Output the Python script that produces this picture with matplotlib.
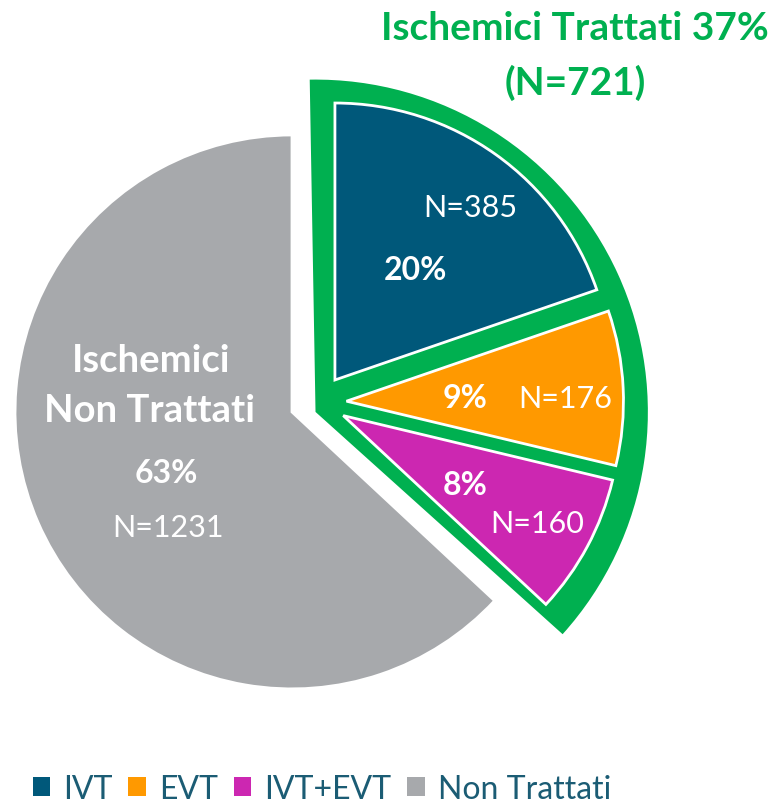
import matplotlib.pyplot as plt
from matplotlib.patches import Patch

# Dati
categorie = ["IVT", "EVT", "IVT+EVT", "Non Trattati"]
pazienti = [385, 176, 160, 1231]
percentuali = ["20%", "9%", "8%", "63%"]
colori = ["#00587A", "#FF9900", "#CC27B1", "#A7A9AC"]
trattati_n = 721
trattati_pct = "37%"

verde = "#00B050"
colore_legenda = "#1B5C74"

plt.rcParams['font.family'] = ['Lato', 'DejaVu Sans']

fig = plt.figure(figsize=(7.77, 8.04), dpi=100)
ax = fig.add_axes([0, 0, 1, 1])

# Cuneo verde dietro ai trattati
sfondo, _ = ax.pie([trattati_n, sum(pazienti) - trattati_n], startangle=91, counterclock=False,
                   radius=1.20, center=(0.085, 0.0), colors=[verde, 'none'])

# Torta principale, con i trattati esplosi
esplodi = [0.1, 0.1, 0.1, 0]
spicchi, _ = ax.pie(pazienti, colors=colori, startangle=90, counterclock=False, radius=1,
                    explode=esplodi, wedgeprops=dict(edgecolor='white', linewidth=2))

# Spostare il gruppo dei trattati verso destra
for w in spicchi[:3]:
    cx, cy = w.center
    w.set_center((cx + 0.097, cy + 0.034))

# Etichette
bianco = 'white'
ax.text(0.643, 0.708, f"N={pazienti[0]}", color=bianco, fontsize=22, ha='center', va='baseline')
ax.text(0.444, 0.480, percentuali[0], color=bianco, fontsize=23, fontweight='bold', ha='center', va='baseline')
ax.text(0.625, 0.018, percentuali[1], color=bianco, fontsize=23, fontweight='bold', ha='center', va='baseline')
ax.text(0.986, 0.018, f"N={pazienti[1]}", color=bianco, fontsize=22, ha='center', va='baseline')
ax.text(0.625, -0.296, percentuali[2], color=bianco, fontsize=23, fontweight='bold', ha='center', va='baseline')
ax.text(0.884, -0.433, f"N={pazienti[2]}", color=bianco, fontsize=22, ha='center', va='baseline')
ax.text(-0.509, 0.148, "Ischemici", color=bianco, fontsize=27.5, fontweight='bold', ha='center', va='baseline')
ax.text(-0.513, -0.032, "Non Trattati", color=bianco, fontsize=27.5, fontweight='bold', ha='center', va='baseline')
ax.text(-0.455, -0.253, percentuali[3], color=bianco, fontsize=23, fontweight='bold', ha='center', va='baseline')
ax.text(-0.448, -0.448, f"N={pazienti[3]}", color=bianco, fontsize=22, ha='center', va='baseline')

# Titolo verde
ax.text(1.022, 1.347, f"Ischemici Trattati {trattati_pct}", color=verde, fontsize=28,
        fontweight='bold', ha='center', va='baseline')
ax.text(1.022, 1.148, f"(N={trattati_n})", color=verde, fontsize=28,
        fontweight='bold', ha='center', va='baseline')

ax.set_xlim(-1.054, 1.751)
ax.set_ylim(-1.412, 1.491)
ax.set_aspect('equal')
ax.axis('off')

# Legenda
maniglie = [Patch(facecolor=c, edgecolor='none') for c in colori]
fig.legend(maniglie, categorie, loc='center', bbox_to_anchor=(0.414, 0.018), ncol=4,
           frameon=False, fontsize=23, labelcolor=colore_legenda, handlelength=0.55,
           handleheight=0.55, handletextpad=0.4, columnspacing=0.5)

fig.savefig("out.png", dpi=100)
